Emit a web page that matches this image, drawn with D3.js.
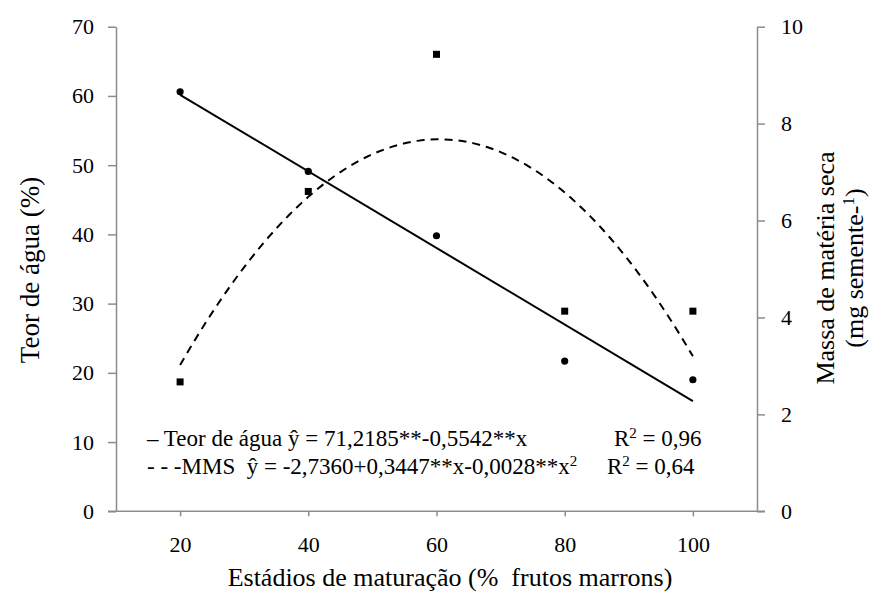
<!DOCTYPE html>
<html>
<head>
<meta charset="utf-8">
<script src="https://cdn.jsdelivr.net/npm/d3@7"></script>
<style>
  html, body { margin: 0; padding: 0; background: #fff; }
  svg { display: block; }
  svg text { font-family: "Liberation Serif", "Times New Roman", Times, serif; white-space: pre; }
</style>
</head>
<body>
<svg id="chart" width="875" height="595"></svg>
<script>
// Maturation stages (% brown fruits)
const stages = [20, 40, 60, 80, 100];
// Water content (%), left axis
const waterContent = [60.6, 49.1, 39.8, 21.7, 19.0];
// Dry matter mass (mg seed-1), right axis
const dryMass = [2.67, 6.6, 9.43, 4.13, 4.13];
// Tick values
const xTicks = [20, 40, 60, 80, 100];
const yLeftTicks = [0, 10, 20, 30, 40, 50, 60, 70];
const yRightTicks = [0, 2, 4, 6, 8, 10];
// Legend lines
const legendWater = ["\u2013 Teor de água ŷ = 71,2185**-0,5542**x", "0,96"];
const legendMass = ["- - -MMS  ŷ = -2,7360+0,3447**x-0,0028**x", "0,64"];

// Least-squares polynomial fit (degree 1 or 2) via normal equations
function polyFit(xs, ys, deg) {
  const n = deg + 1;
  const A = Array.from({length: n}, () => new Array(n + 1).fill(0));
  xs.forEach((xv, k) => {
    for (let i = 0; i < n; i++) {
      for (let j = 0; j < n; j++) A[i][j] += Math.pow(xv, i + j);
      A[i][n] += ys[k] * Math.pow(xv, i);
    }
  });
  for (let i = 0; i < n; i++) {
    let p = i;
    for (let r = i + 1; r < n; r++) if (Math.abs(A[r][i]) > Math.abs(A[p][i])) p = r;
    [A[i], A[p]] = [A[p], A[i]];
    for (let r = 0; r < n; r++) {
      if (r === i) continue;
      const f = A[r][i] / A[i][i];
      for (let c = i; c <= n; c++) A[r][c] -= f * A[i][c];
    }
  }
  return A.map((row, i) => row[n] / row[i]);
}
const evalPoly = (co, v) => co.reduce((s, c, i) => s + c * Math.pow(v, i), 0);

const waterFit = polyFit(stages, waterContent, 1);
const massFit = polyFit(stages, dryMass, 2);

const serif = "'Liberation Serif', 'Times New Roman', Times, serif";
const svg = d3.select("#chart");
const axisColor = "#8c8c8c";

const x = d3.scaleLinear().domain([10, 110]).range([116, 757]);
const yL = d3.scaleLinear().domain([0, 70]).range([511.3, 26.7]);
const yR = d3.scaleLinear().domain([0, 10]).range([511.3, 26.7]);

// Axes
const xAxis = d3.axisBottom(x).tickValues(xTicks).tickSize(5).tickSizeOuter(0).tickPadding(20);
const yAxisL = d3.axisLeft(yL).tickValues(yLeftTicks).tickSize(8).tickSizeOuter(0).tickPadding(14);
const yAxisR = d3.axisRight(yR).tickValues(yRightTicks).tickSize(8).tickSizeOuter(0).tickPadding(16);

function styleAxis(g) {
  g.attr("font-family", serif);
  g.select(".domain").attr("stroke", axisColor).attr("stroke-width", 1.5);
  g.selectAll(".tick line").attr("stroke", axisColor).attr("stroke-width", 1.5);
  g.selectAll(".tick text").attr("fill", "#000").style("font-size", "22px");
}

const gx = svg.append("g").attr("transform", `translate(0,${yL(0)})`).call(xAxis).call(styleAxis);
gx.select(".domain").attr("d", `M108,0H765`);

svg.append("g").attr("transform", `translate(${x(10)},0)`).call(yAxisL).call(styleAxis);
svg.append("g").attr("transform", `translate(${x(110)},0)`).call(yAxisR).call(styleAxis);

// Regression lines
const linear = d3.line().x(d => x(d)).y(d => yL(evalPoly(waterFit, d)));
svg.append("path").datum([20, 100]).attr("d", linear)
  .attr("fill", "none").attr("stroke", "#000").attr("stroke-width", 2);

const quadX = d3.range(20, 100.01, 1);
const quad = d3.line().x(d => x(d)).y(d => yR(evalPoly(massFit, d)));
svg.append("path").datum(quadX).attr("d", quad)
  .attr("fill", "none").attr("stroke", "#000").attr("stroke-width", 2)
  .attr("stroke-dasharray", "8,6");

// Points
svg.selectAll("circle.water").data(stages).join("circle").attr("class", "water")
  .attr("cx", d => x(d)).attr("cy", (d, i) => yL(waterContent[i])).attr("r", 3.6).attr("fill", "#000");

const sq = 7;
svg.selectAll("rect.mass").data(stages).join("rect").attr("class", "mass")
  .attr("x", d => x(d) - sq / 2).attr("y", (d, i) => yR(dryMass[i]) - sq / 2)
  .attr("width", sq).attr("height", sq).attr("fill", "#000");

// Axis titles
svg.append("text").attr("x", 450).attr("y", 586).attr("text-anchor", "middle")
  .style("font-size", "26px").text("Estádios de maturação (%  frutos marrons)");

svg.append("text").attr("transform", "translate(39,270) rotate(-90)").attr("text-anchor", "middle")
  .style("font-size", "27px").text("Teor de água (%)");

svg.append("text").attr("transform", "translate(834,268) rotate(-90)").attr("text-anchor", "middle")
  .style("font-size", "26px").text("Massa de matéria seca");

const t2 = svg.append("text").attr("transform", "translate(863,268) rotate(-90)").attr("text-anchor", "middle")
  .style("font-size", "26px");
t2.append("tspan").text("(mg semente-");
t2.append("tspan").attr("baseline-shift", "super").style("font-size", "17px").text("1");
t2.append("tspan").text(")");

// Legend
function r2(sel, value) {
  sel.append("tspan").text("R");
  sel.append("tspan").attr("baseline-shift", "super").style("font-size", "15px").text("2");
  sel.append("tspan").text(" = " + value);
}
const legFont = "23px";
svg.append("text").attr("x", 147).attr("y", 446).style("font-size", legFont).text(legendWater[0]);
r2(svg.append("text").attr("x", 614).attr("y", 446).style("font-size", legFont), legendWater[1]);

const leg2 = svg.append("text").attr("x", 147).attr("y", 474).style("font-size", legFont);
leg2.append("tspan").text(legendMass[0]);
leg2.append("tspan").attr("baseline-shift", "super").style("font-size", "15px").text("2");
r2(svg.append("text").attr("x", 607).attr("y", 474).style("font-size", legFont), legendMass[1]);
</script>
</body>
</html>
